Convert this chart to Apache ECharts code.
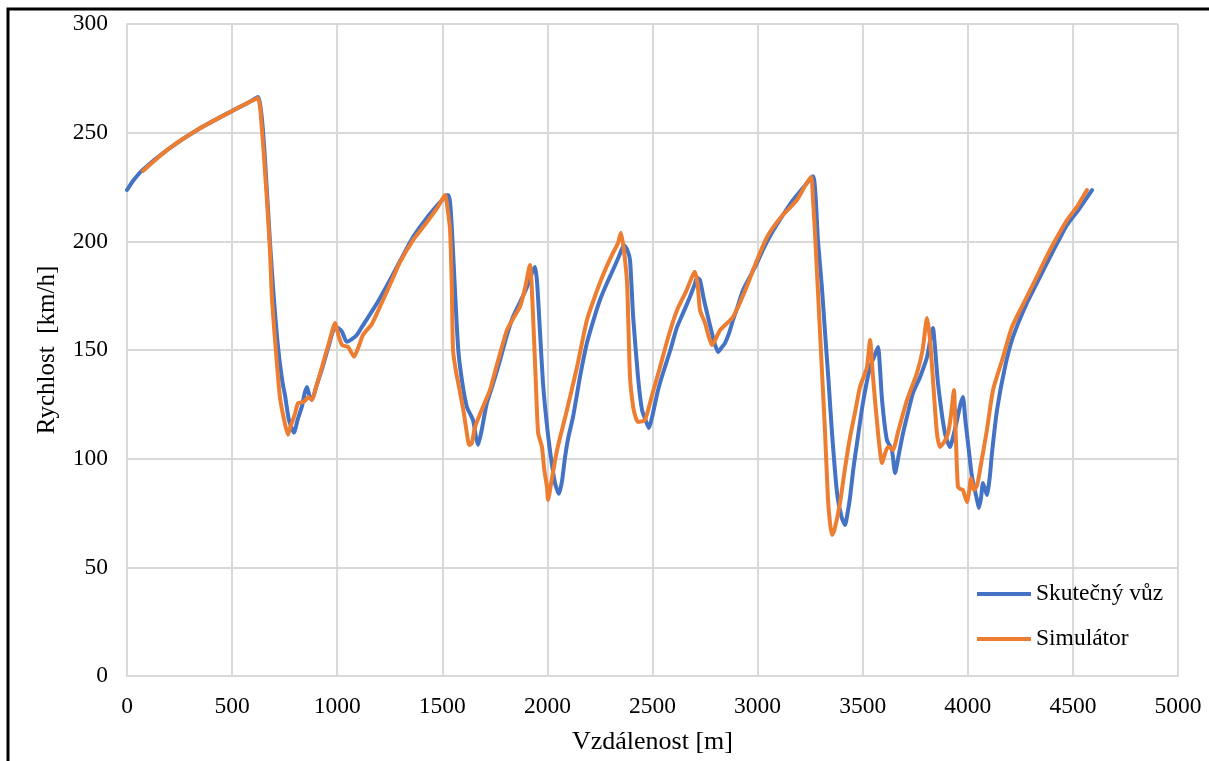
<!DOCTYPE html>
<html>
<head>
<meta charset="utf-8">
<script src="https://cdn.jsdelivr.net/npm/echarts@6/dist/echarts.min.js"></script>
<style>
  html, body { margin: 0; padding: 0; background: #fff; }
  #chart { width: 1209px; height: 761px; }
</style>
</head>
<body>
<div id="chart"></div>
<script>
// Speed along the lap: measured car vs. simulator
const seriesNames = ['Skutečný vůz', 'Simulátor'];
const xTicks = [0, 500, 1000, 1500, 2000, 2500, 3000, 3500, 4000, 4500, 5000];
const yTicks = [0, 50, 100, 150, 200, 250, 300];

// Measured car: distance [m] / speed [km/h]
const realDist = [0,30,76,190,347,500,580,623,640,655,680,700,720,740,752,770,794,812,832,845,856,868,880,900,930,960,990,1005,1023,1045,1070,1094,1120,1140,1190,1250,1299,1361,1420,1480,1510,1527,1537,1546,1560,1576,1595,1617,1646,1660,1670,1685,1712,1740,1775,1805,1836,1870,1903,1927,1941,1951,1965,1979,1995,2012,2036,2055,2070,2084,2100,2122,2155,2188,2220,2250,2280,2312,2340,2364,2380,2393,2408,2431,2450,2470,2483,2500,2525,2550,2585,2617,2650,2678,2700,2712,2726,2745,2764,2790,2812,2828,2845,2865,2883,2905,2931,2965,2997,3030,3068,3120,3169,3220,3264,3275,3287,3305,3321,3338,3354,3378,3400,3416,3428,3440,3455,3473,3501,3535,3555,3573,3582,3592,3615,3639,3654,3672,3692,3715,3739,3773,3806,3820,3834,3845,3858,3891,3915,3935,3949,3965,3977,3988,4001,4020,4044,4053,4063,4072,4082,4091,4105,4115,4139,4177,4215,4281,4340,4391,4430,4472,4530,4591];
const realSpeed = [223.6,228,233,242,252,260,264,266.4,258,240,200,172,150,135,129,118,112,118,124,130,133,129,127,133,142,152,160.6,160,158.4,153.8,155,157,161,164,171.6,182,191,202,210,217,220,221.3,218,205,178,150,135,123.8,117.8,110,106.3,112,125.6,134,145.4,156,165.2,172,179,185.5,188.2,181,158,134.8,118,104,88.8,83.8,90,100.8,110,119.2,137.6,153.2,164,173,180,186.8,193,198.3,196,191.4,165.2,137.6,122.4,117,114.1,120,131,139.4,150,160.6,168,174.4,180,183.2,182.2,173,165.2,155,149,151,153.2,158,163.8,170,177.6,184,190,197,203.9,212,219,225,230,222,200.6,180,157.8,135,111.8,84.2,73,69.5,75,82.4,95,107.2,125.6,142.2,147,151.4,142,127,108.6,104,93.4,102,111.8,121,130.2,137.6,146.8,154,160.1,150,134.8,111.8,105.4,112,117.8,125,128.4,118,107.2,91.6,81,77.3,82,88.8,86,83.3,92,102.6,122.4,142.2,156,171.6,183,192.8,200,207.5,215,223.6];

// Simulator: distance [m] / speed [km/h]
const simDist = [76,190,347,500,580,623,643,665,680,690,713,728,747,766,778,790,800,814,837,850,862,880,900,930,960,990,1005,1023,1052,1066,1080,1100,1123,1165,1218,1260,1299,1361,1420,1480,1513,1525,1537,1545,1551,1565,1576,1600,1615,1628,1640,1656,1690,1727,1765,1807,1840,1870,1895,1917,1925,1932,1945,1956,1974,1985,1998,2003,2020,2046,2093,2141,2188,2220,2250,2280,2312,2335,2350,2365,2379,2393,2408,2420,2431,2464,2500,2536,2575,2617,2660,2702,2715,2726,2750,2765,2783,2800,2820,2836,2883,2935,2988,3045,3110,3187,3254,3263,3273,3297,3321,3335,3345,3354,3365,3392,3415,3440,3465,3487,3520,3535,3542,3549,3573,3592,3605,3620,3632,3644,3670,3711,3758,3785,3806,3818,3830,3853,3868,3890,3906,3920,3934,3943,3953,3965,3977,3985,3996,4008,4015,4030,4045,4058,4091,4120,4168,4210,4281,4340,4391,4472,4520,4567];
const simSpeed = [232.4,242,252,260,264,266,250,220,196,173,144,128,118,111,115,118,121,125.6,126,127,128.4,127,133,143,153,162.4,157,152.3,151.4,149,146.9,151,157,162,173,182,190.5,200.6,208,216,221.3,215,205,180,150,140,134.8,122.4,113,106.3,107,114.6,123,131.6,145,159,165,170,179,189.1,180,165.2,135,111.8,105.4,95,87,81,90,104,122.4,142.2,163.8,173,180.9,188,194.7,199,203.9,195,180.9,137.6,123.8,119,116.9,117.8,130,142.2,156,168.4,177,186,180,168.4,162.4,157,152.3,155,159,160.6,165.2,176,189.1,202,211,219,229.6,220,203.9,157.8,111.8,81,70,64.9,67,79.6,95,110,122,133,142,154.6,148,137.6,111.8,98,102,105.4,105,104,113,127,139.4,150,164.7,157,142.2,111.8,105.4,108,111.8,120,131.6,110,87,86,85.6,83,80,86,91,85.6,88,94.8,113.2,131.6,146.8,160.6,174.4,186,196,209.8,216,223.6];

const zip = (xs, ys) => xs.map((x, i) => [x, ys[i]]);

const serif = '"Liberation Serif", "Times New Roman", serif';
const gridColor = '#d9d9d9';
const plainNumber = v => String(v);

const chart = echarts.init(document.getElementById('chart'), null, { renderer: 'canvas' });

chart.setOption({
  animation: false,
  backgroundColor: '#fff',
  textStyle: { fontFamily: serif, color: '#000' },
  grid: { left: 127, right: 31, top: 24, bottom: 85, containLabel: false },
  graphic: [{
    type: 'rect',
    z: 0,
    silent: true,
    shape: { x: 8, y: 9, width: 1400, height: 1000 },
    style: { fill: 'none', stroke: '#000', lineWidth: 3 }
  }],
  legend: {
    orient: 'vertical',
    left: 977,
    top: 582,
    padding: 0,
    itemWidth: 54,
    itemHeight: 4,
    itemGap: 21,
    icon: 'rect',
    data: seriesNames,
    textStyle: { fontFamily: serif, fontSize: 23.5, color: '#000', lineHeight: 24 }
  },
  xAxis: {
    type: 'value',
    min: xTicks[0],
    max: xTicks[xTicks.length - 1],
    interval: xTicks[1] - xTicks[0],
    name: 'Vzdálenost [m]',
    nameLocation: 'middle',
    nameGap: 53,
    nameTextStyle: { fontFamily: serif, fontSize: 26, color: '#000', verticalAlign: 'top' },
    axisLine: { show: true, lineStyle: { color: gridColor, width: 2 } },
    axisTick: { show: false },
    axisLabel: { fontFamily: serif, fontSize: 23.5, color: '#000', margin: 19, formatter: plainNumber },
    splitLine: { show: true, lineStyle: { color: gridColor, width: 2 } }
  },
  yAxis: {
    type: 'value',
    min: yTicks[0],
    max: yTicks[yTicks.length - 1],
    interval: yTicks[1] - yTicks[0],
    name: 'Rychlost  [km/h]',
    nameLocation: 'middle',
    nameGap: 67,
    nameTextStyle: { fontFamily: serif, fontSize: 25, color: '#000', verticalAlign: 'bottom' },
    axisLine: { show: true, lineStyle: { color: gridColor, width: 2 } },
    axisTick: { show: false },
    axisLabel: { fontFamily: serif, fontSize: 23.5, color: '#000', margin: 19, formatter: plainNumber },
    splitLine: { show: true, lineStyle: { color: gridColor, width: 2 } }
  },
  series: [
    {
      name: seriesNames[0],
      type: 'line',
      data: zip(realDist, realSpeed),
      showSymbol: false,
      symbol: 'none',
      smooth: 0.2,
      lineStyle: { color: '#4472C4', width: 4, join: 'round', cap: 'round' },
      itemStyle: { color: '#4472C4' },
      z: 2
    },
    {
      name: seriesNames[1],
      type: 'line',
      data: zip(simDist, simSpeed),
      showSymbol: false,
      symbol: 'none',
      smooth: 0.2,
      lineStyle: { color: '#ED7D31', width: 4, join: 'round', cap: 'round' },
      itemStyle: { color: '#ED7D31' },
      z: 3
    }
  ]
});
</script>
</body>
</html>
